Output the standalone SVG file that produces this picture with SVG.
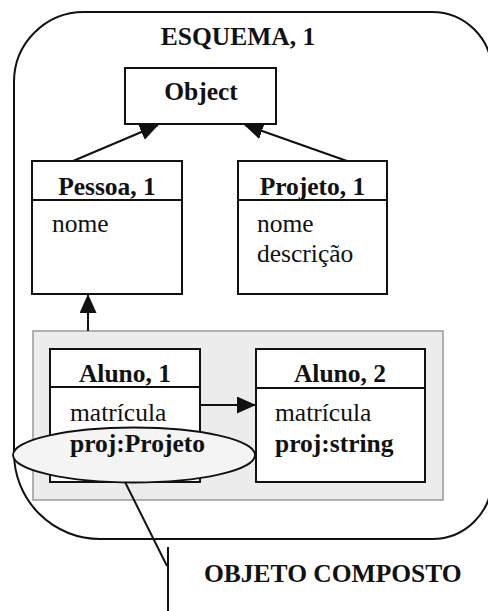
<svg xmlns="http://www.w3.org/2000/svg" width="488" height="611" viewBox="0 0 488 611">
  <style>
    .box { fill: #ffffff; stroke: #111; stroke-width: 2; }
    .div { stroke: #111; stroke-width: 2; }
    .conn { stroke: #111; stroke-width: 2; fill: none; }
    .t { font-family: "Liberation Serif", "Times New Roman", serif; font-size: 25.5px; fill: #111; }
    .b { font-weight: bold; }
    .c { text-anchor: middle; }
  </style>
  <defs>
    <marker id="tri" markerUnits="userSpaceOnUse" markerWidth="20" markerHeight="18" refX="18" refY="8.5" orient="auto">
      <path d="M0,0 L19,8.5 L0,17 Z" fill="#111"/>
    </marker>
  </defs>
  <rect width="488" height="611" fill="#ffffff"/>

  <!-- schema boundary -->
  <g id="esquema">
    <path d="M84,12 H432 A60,60 0 0 1 492,72 V479 A60,60 0 0 1 432,539 H100 A86,86 0 0 1 14,453 V82 A70,70 0 0 1 84,12 Z" fill="none" stroke="#111" stroke-width="2"/>
    <text class="t b c" x="238" y="45">ESQUEMA, 1</text>
  </g>

  <!-- composite object area -->
  <g id="composto-area">
    <rect x="33" y="331" width="410" height="169" fill="#ececec" stroke="#999" stroke-width="1.5"/>
  </g>

  <g id="object">
    <rect class="box" x="125" y="68" width="151" height="56"/>
    <text class="t b c" x="201" y="100">Object</text>
  </g>

  <g id="pessoa">
    <rect class="box" x="32" y="161" width="150" height="133"/>
    <line class="div" x1="32" y1="200" x2="182" y2="200"/>
    <text class="t b c" x="107" y="195">Pessoa, 1</text>
    <text class="t" x="52" y="232">nome</text>
  </g>

  <g id="projeto">
    <rect class="box" x="238" y="161" width="149" height="133"/>
    <line class="div" x1="238" y1="200" x2="387" y2="200"/>
    <text class="t b c" x="312.5" y="195">Projeto, 1</text>
    <text class="t" x="257" y="232">nome</text>
    <text class="t" x="257" y="262">descrição</text>
  </g>

  <g id="aluno1">
    <rect class="box" x="50" y="349" width="150" height="133"/>
    <line class="div" x1="50" y1="387" x2="200" y2="387"/>
    <text class="t b c" x="125" y="382">Aluno, 1</text>
    <text class="t" x="70" y="421">matrícula</text>
  </g>

  <g id="aluno2">
    <rect class="box" x="256" y="349" width="169" height="133"/>
    <line class="div" x1="256" y1="388" x2="425" y2="388"/>
    <text class="t b c" x="340" y="382">Aluno, 2</text>
    <text class="t" x="275" y="421">matrícula</text>
    <text class="t b" x="275" y="452">proj:string</text>
  </g>

  <!-- highlighted attribute -->
  <g id="proj-atributo">
    <ellipse cx="134" cy="455" rx="121" ry="27.5" fill="#f4f4f4" stroke="#111" stroke-width="1.8"/>
    <text class="t b" x="70" y="452">proj:Projeto</text>
  </g>

  <g id="connectors">
    <line class="conn" x1="73" y1="161" x2="158" y2="125" marker-end="url(#tri)"/>
    <line class="conn" x1="347" y1="161" x2="245" y2="125" marker-end="url(#tri)"/>
    <line class="conn" x1="88" y1="331" x2="88" y2="295" marker-end="url(#tri)"/>
    <line class="conn" x1="200" y1="405" x2="255" y2="405" marker-end="url(#tri)"/>
    <line class="conn" x1="125" y1="482" x2="167" y2="566"/>
    <line class="conn" x1="168" y1="547" x2="168" y2="611"/>
  </g>

  <g id="objeto-composto">
    <text class="t b" x="204" y="582">OBJETO COMPOSTO</text>
  </g>
</svg>
